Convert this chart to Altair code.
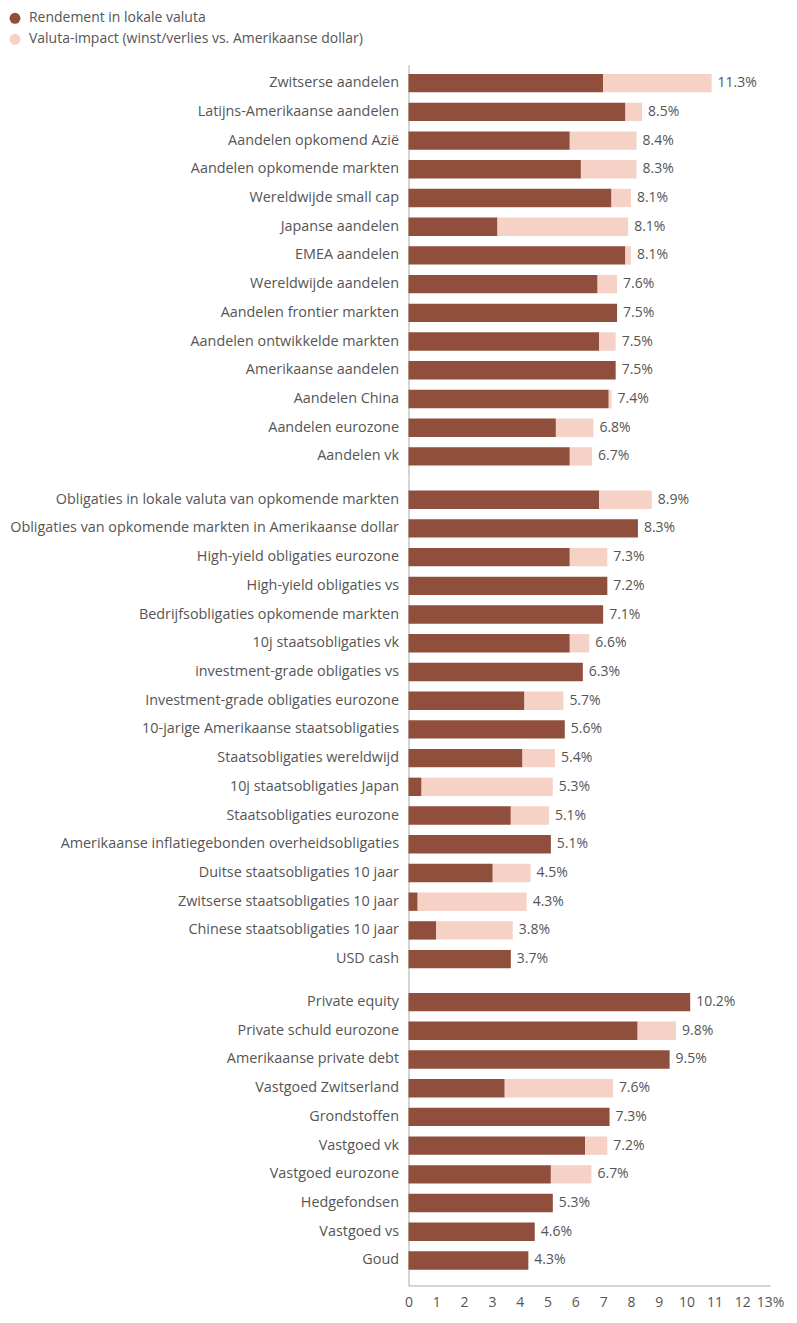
import altair as alt
import pandas as pd

SERIES = ["Rendement in lokale valuta", "Valuta-impact (winst/verlies vs. Amerikaanse dollar)"]

names1 = ["Zwitserse aandelen", "Latijns-Amerikaanse aandelen", "Aandelen opkomend Azië",
          "Aandelen opkomende markten", "Wereldwijde small cap", "Japanse aandelen",
          "EMEA aandelen", "Wereldwijde aandelen", "Aandelen frontier markten",
          "Aandelen ontwikkelde markten", "Amerikaanse aandelen", "Aandelen China",
          "Aandelen eurozone", "Aandelen vk"]
local1 = [7.0, 7.8, 5.8, 6.2, 7.3, 3.2, 7.8, 6.8, 7.5, 6.85, 7.45, 7.2, 5.3, 5.8]
fx1 = [3.9, 0.6, 2.4, 2.0, 0.7, 4.7, 0.2, 0.7, 0.0, 0.6, 0.0, 0.1, 1.35, 0.8]
total1 = [11.3, 8.5, 8.4, 8.3, 8.1, 8.1, 8.1, 7.6, 7.5, 7.5, 7.5, 7.4, 6.8, 6.7]

names2 = ["Obligaties in lokale valuta van opkomende markten",
          "Obligaties van opkomende markten in Amerikaanse dollar",
          "High-yield obligaties eurozone", "High-yield obligaties vs",
          "Bedrijfsobligaties opkomende markten", "10j staatsobligaties vk",
          "investment-grade obligaties vs", "Investment-grade obligaties eurozone",
          "10-jarige Amerikaanse staatsobligaties", "Staatsobligaties wereldwijd",
          "10j staatsobligaties Japan", "Staatsobligaties eurozone",
          "Amerikaanse inflatiegebonden overheidsobligaties",
          "Duitse staatsobligaties 10 jaar", "Zwitserse staatsobligaties 10 jaar",
          "Chinese staatsobligaties 10 jaar", "USD cash"]
local2 = [6.85, 8.25, 5.8, 7.15, 7.0, 5.8, 6.27, 4.17, 5.62, 4.1, 0.47, 3.68, 5.12, 3.03, 0.33, 0.99, 3.68]
fx2 = [1.9, 0.0, 1.35, 0.0, 0.0, 0.7, 0.0, 1.4, 0.0, 1.17, 4.72, 1.37, 0.0, 1.36, 3.92, 2.76, 0.0]
total2 = [8.9, 8.3, 7.3, 7.2, 7.1, 6.6, 6.3, 5.7, 5.6, 5.4, 5.3, 5.1, 5.1, 4.5, 4.3, 3.8, 3.7]

names3 = ["Private equity", "Private schuld eurozone", "Amerikaanse private debt",
          "Vastgoed Zwitserland", "Grondstoffen", "Vastgoed vk", "Vastgoed eurozone",
          "Hedgefondsen", "Vastgoed vs", "Goud"]
local3 = [10.13, 8.24, 9.39, 3.46, 7.23, 6.35, 5.12, 5.19, 4.54, 4.31]
fx3 = [0.0, 1.38, 0.0, 3.89, 0.0, 0.8, 1.46, 0.0, 0.0, 0.0]
total3 = [10.2, 9.8, 9.5, 7.6, 7.3, 7.2, 6.7, 5.3, 4.6, 4.3]

x_ticks = list(range(0, 14))

DARK = "#8f4f3c"
LIGHT = "#f6d1c6"
TEXT = "#555555"
AXIS = "#aaaaaa"
FONT = "Open Sans"


def make_frames(names, local, fx, total):
    rows = []
    for n, l, f in zip(names, local, fx):
        rows.append({"cat": n, "serie": SERIES[0], "val": l, "ord": 0})
        rows.append({"cat": n, "serie": SERIES[1], "val": f, "ord": 1})
    bars = pd.DataFrame(rows)
    labels = pd.DataFrame({"cat": names,
                           "end": [l + f for l, f in zip(local, fx)],
                           "lab": [f"{t:.1f}%" for t in total]})
    return bars, labels


def panel(names, local, fx, total, height, pad_outer, align, show_x, legend=False):
    bars, labels = make_frames(names, local, fx, total)
    yscale = alt.Scale(domain=names, paddingInner=0.36, paddingOuter=pad_outer,
                       align=align, round=False)
    yaxis = alt.Axis(title=None, ticks=False, domainColor=AXIS, labelPadding=10,
                     labelFontSize=14.4, labelColor=TEXT, labelFont=FONT,
                     minExtent=401, maxExtent=401, labelLimit=400, grid=False)
    xscale = alt.Scale(domain=[0, 13], nice=False)
    if show_x:
        xaxis = alt.Axis(title=None, values=x_ticks, ticks=False, domainColor=AXIS,
                         labelFontSize=14, labelColor=TEXT, labelFont=FONT,
                         labelPadding=10, grid=False, labelOverlap=False,
                         labelFlush=False,
                         labelExpr="datum.value == 13 ? '13%' : datum.label")
    else:
        xaxis = None
    if legend:
        leg = alt.Legend(title=None, orient="none", legendX=-401, legendY=-53.5,
                         direction="vertical", symbolType="circle", symbolSize=120,
                         labelFontSize=14, labelColor=TEXT, labelFont=FONT,
                         rowPadding=7, labelOffset=7, labelLimit=500)
    else:
        leg = None
    b = alt.Chart(bars).mark_bar().encode(
        y=alt.Y("cat:N", scale=yscale, axis=yaxis),
        x=alt.X("sum(val):Q", scale=xscale, axis=xaxis, stack="zero"),
        color=alt.Color("serie:N", scale=alt.Scale(domain=SERIES, range=[DARK, LIGHT]),
                        legend=leg),
        order=alt.Order("ord:Q"),
    )
    t = alt.Chart(labels).mark_text(align="left", baseline="middle", dx=6,
                                    fontSize=14, color=TEXT, font=FONT).encode(
        y=alt.Y("cat:N", scale=yscale, axis=yaxis),
        x=alt.X("end:Q", scale=xscale, axis=xaxis),
        text="lab:N",
    )
    return alt.layer(b, t).properties(width=362, height=height)


p1 = panel(names1, local1, fx1, total1, 413.65, 0.374, 0.428, False, legend=True)
p2 = panel(names2, local2, fx2, total2, 503.0, 0.428, 0.5, False)
p3 = panel(names3, local3, fx3, total3, 305.25, 0.489, 0.438, True)

chart = alt.vconcat(p1, p2, p3, spacing=0).properties(
    padding={"left": 0, "top": 2, "right": 5, "bottom": 5}
).configure_view(stroke=None).resolve_scale(color="shared")

chart.save("out.html", embed_options={"renderer": "svg", "actions": False})
